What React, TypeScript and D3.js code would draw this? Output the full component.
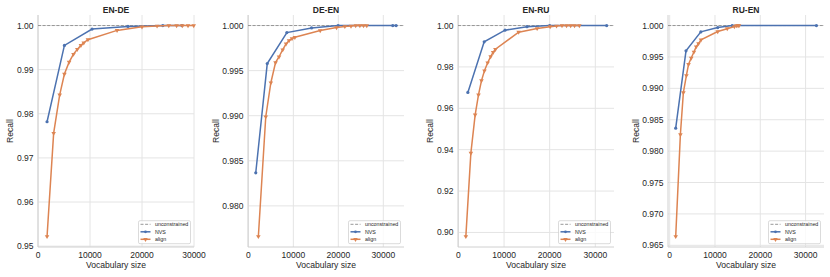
import * as d3 from "d3";

const WIDTH = 830;
const HEIGHT = 277;
const PLOT_TOP = 15;
const PLOT_BOTTOM = 247;
const PLOT_W = 156;
const PANEL_LEFTS = [38, 248, 458, 668];
const FONT = "Arial, 'Liberation Sans', Helvetica, sans-serif";
const TEXT = "#262626";
const BLUE = "#4C72B0";
const ORANGE = "#DD8452";

const TITLES = ["EN-DE", "DE-EN", "EN-RU", "RU-EN"];
const X_TICKS = [0, 10000, 20000, 30000];

// [vocabulary size, recall]
const NVS_EN_DE: [number, number][] = [
  [1740, 0.9782], [5080, 0.9955], [10400, 0.9992], [17300, 0.9998], [24000, 1.0], [27700, 1.0],
];
const ALIGN_EN_DE: [number, number][] = [
  [1740, 0.9522], [3010, 0.9756], [4170, 0.9843], [5080, 0.989], [5980, 0.9917], [6820, 0.9935],
  [7550, 0.9946], [8250, 0.9955], [8800, 0.9961], [9600, 0.9968], [15200, 0.9989], [20000, 0.9997],
  [22900, 0.9999], [25150, 1.0], [26650, 1.0], [27750, 1.0], [28850, 1.0], [29950, 1.0],
];
const NVS_DE_EN: [number, number][] = [
  [1644, 0.98367], [4200, 0.99578], [8560, 0.99922], [14050, 0.99974], [19960, 1.0], [32100, 1.0], [32850, 1.0],
];
const ALIGN_DE_EN: [number, number][] = [
  [2222, 0.97661], [3867, 0.98989], [5000, 0.99366], [6040, 0.99589], [6820, 0.99654], [7640, 0.99732],
  [8380, 0.99796], [9040, 0.99833], [9700, 0.99855], [10340, 0.9987], [15970, 0.99944], [19600, 0.99978],
  [21450, 0.9999], [22820, 0.99995], [23860, 1.0], [24790, 1.0], [25600, 1.0], [26330, 1.0],
];
const NVS_EN_RU: [number, number][] = [
  [2060, 0.96767], [5640, 0.99215], [10210, 0.99777], [15020, 0.99944], [20000, 1.0], [32500, 1.0],
];
const ALIGN_EN_RU: [number, number][] = [
  [1620, 0.89806], [2720, 0.93835], [3660, 0.9568], [4390, 0.9665], [5050, 0.9734], [5700, 0.97816],
  [6400, 0.98204], [7060, 0.98495], [7610, 0.98709], [8100, 0.98854], [13200, 0.9968], [17250, 0.9986],
  [20100, 0.99945], [21500, 0.9998], [22700, 1.0], [23700, 1.0], [24600, 1.0], [25450, 1.0], [26500, 1.0],
];
const NVS_RU_EN: [number, number][] = [
  [1325, 0.98365], [3600, 0.99598], [6870, 0.99899], [10600, 0.99968], [13800, 1.0], [32400, 1.0],
];
const ALIGN_RU_EN: [number, number][] = [
  [1325, 0.96641], [2360, 0.98264], [3020, 0.98933], [3690, 0.99205], [4160, 0.99383], [4750, 0.99482],
  [5350, 0.99579], [5850, 0.99663], [6360, 0.99712], [6910, 0.99771], [10600, 0.99905], [12700, 0.9995],
  [14280, 0.99984], [14720, 1.0], [15080, 1.0], [15300, 1.0],
];

const NVS = [NVS_EN_DE, NVS_DE_EN, NVS_EN_RU, NVS_RU_EN];
const ALIGN = [ALIGN_EN_DE, ALIGN_DE_EN, ALIGN_EN_RU, ALIGN_RU_EN];

const Y_TICKS = [
  [0.95, 0.96, 0.97, 0.98, 0.99, 1.0],
  [0.98, 0.985, 0.99, 0.995, 1.0],
  [0.9, 0.92, 0.94, 0.96, 0.98, 1.0],
  [0.965, 0.97, 0.975, 0.98, 0.985, 0.99, 0.995, 1.0],
];
const Y_DECIMALS = [2, 3, 2, 3];
const X_DOMAINS: [number, number][] = [
  [0, 30000],
  [-80, 34600],
  [-100, 34100],
  [-375, 34065],
];

const LEGEND = ["unconstrained", "NVS", "align"];

function Panel({ i }: { i: number }) {
  const left = PANEL_LEFTS[i];
  const right = left + PLOT_W;
  const nvs = NVS[i];
  const align = ALIGN[i];
  const all = nvs.concat(align);
  const yMin = d3.min(all, (d) => d[1]) as number;
  const yMax = d3.max(all, (d) => d[1]) as number;
  const pad = (yMax - yMin) * 0.05;

  const x = d3.scaleLinear().domain(X_DOMAINS[i]).range([left, right]);
  const y = d3.scaleLinear().domain([yMin - pad, yMax + pad]).range([PLOT_BOTTOM, PLOT_TOP]);
  const line = d3
    .line<[number, number]>()
    .x((d) => x(d[0]))
    .y((d) => y(d[1]));
  const tri = d3.symbol().type(d3.symbolTriangle).size(9)();

  const fmt = d3.format(`.${Y_DECIMALS[i]}f`);
  const tickW = 8.5 * (0.556 * (Y_DECIMALS[i] + 1) + 0.278);
  const ylabelX = left - 4.5 - tickW - 3.5;
  const lgRight = right - 3.5;
  const lgLeft = lgRight - 52;
  const lgTop = PLOT_BOTTOM - 26.3;

  return (
    <g>
      {X_TICKS.map((t) => (
        <line key={`gx${t}`} x1={x(t)} x2={x(t)} y1={PLOT_TOP} y2={PLOT_BOTTOM} stroke="#e4e4e4" strokeWidth={1} />
      ))}
      {Y_TICKS[i].map((t) => (
        <line key={`gy${t}`} x1={left} x2={right} y1={y(t)} y2={y(t)} stroke="#e4e4e4" strokeWidth={1} />
      ))}
      <line x1={left} x2={left} y1={PLOT_TOP} y2={PLOT_BOTTOM} stroke="#d0d0d0" strokeWidth={1} />
      <line x1={left} x2={right} y1={PLOT_BOTTOM} y2={PLOT_BOTTOM} stroke="#d0d0d0" strokeWidth={1} />

      <line x1={left} x2={right} y1={y(1)} y2={y(1)} stroke="#8c8c8c" strokeWidth={0.9} strokeDasharray="3,1.6" />
      <path d={line(nvs) ?? ""} fill="none" stroke={BLUE} strokeWidth={1.5} />
      {nvs.map((d, k) => (
        <circle key={`n${k}`} cx={x(d[0])} cy={y(d[1])} r={1.6} fill={BLUE} />
      ))}
      <path d={line(align) ?? ""} fill="none" stroke={ORANGE} strokeWidth={1.5} />
      {align.map((d, k) => (
        <path key={`a${k}`} d={tri} transform={`translate(${x(d[0])},${y(d[1])}) rotate(180)`} fill={ORANGE} />
      ))}

      {X_TICKS.map((t) => (
        <text key={`tx${t}`} x={x(t)} y={258.3} textAnchor="middle" fontSize={8.5} fill={TEXT}>
          {t}
        </text>
      ))}
      {Y_TICKS[i].map((t) => (
        <text key={`ty${t}`} x={left - 4.5} y={y(t) + 3} textAnchor="end" fontSize={8.5} fill={TEXT}>
          {fmt(t)}
        </text>
      ))}
      <text x={(left + right) / 2} y={12.7} textAnchor="middle" fontSize={8.5} fontWeight="bold" fill={TEXT}>
        {TITLES[i]}
      </text>
      <text x={(left + right) / 2} y={268.3} textAnchor="middle" fontSize={8.6} fill={TEXT}>
        Vocabulary size
      </text>
      <text
        transform={`translate(${ylabelX},${(PLOT_TOP + PLOT_BOTTOM) / 2}) rotate(-90)`}
        textAnchor="middle"
        fontSize={8.6}
        fill={TEXT}
      >
        Recall
      </text>

      <rect x={lgLeft} y={lgTop} width={52} height={23} rx={1.5} fill="white" fillOpacity={0.8} stroke="#cccccc" strokeWidth={0.7} />
      {LEGEND.map((name, k) => {
        const cy = lgTop + 3.6 + k * 7.5;
        const color = k === 0 ? "#8c8c8c" : k === 1 ? BLUE : ORANGE;
        return (
          <g key={name}>
            <line
              x1={lgLeft + 2}
              x2={lgLeft + 12}
              y1={cy}
              y2={cy}
              stroke={color}
              strokeWidth={k === 0 ? 0.9 : 1.5}
              strokeDasharray={k === 0 ? "3,1.6" : undefined}
            />
            {k === 1 && <circle cx={lgLeft + 7} cy={cy} r={1.4} fill={BLUE} />}
            {k === 2 && <path d={tri} transform={`translate(${lgLeft + 7},${cy}) rotate(180)`} fill={ORANGE} />}
            <text x={lgLeft + 16.5} y={cy + 1.9} fontSize={5.3} fill={TEXT}>
              {name}
            </text>
          </g>
        );
      })}
    </g>
  );
}

export default function App() {
  return (
    <svg
      width={WIDTH}
      height={HEIGHT}
      viewBox={`0 0 ${WIDTH} ${HEIGHT}`}
      style={{ position: "absolute", left: 0, top: 0, background: "white" }}
      fontFamily={FONT}
    >
      {TITLES.map((_, i) => (
        <Panel key={i} i={i} />
      ))}
    </svg>
  );
}
